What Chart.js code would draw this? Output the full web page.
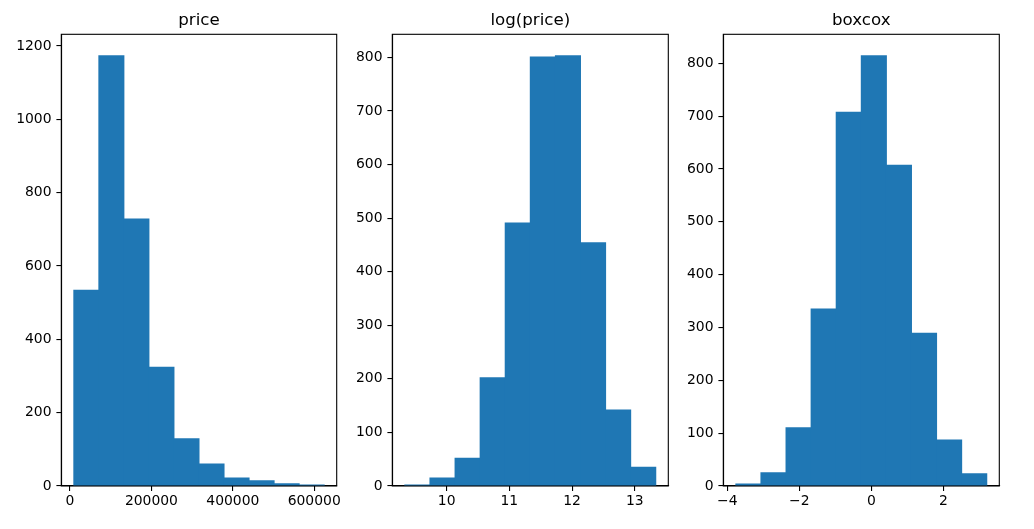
<!DOCTYPE html>
<html>
<head>
<meta charset="utf-8">
<title>price / log(price) / boxcox</title>
<script src="https://cdn.jsdelivr.net/npm/chart.js@4.4.0/dist/chart.umd.min.js"></script>
<style>
    body { margin: 0; background: #fff; }
    #wrap { position: relative; width: 1034px; height: 529px; overflow: hidden; }
    #wrap canvas { position: absolute; top: 0; }
</style>
</head>
<body>
<div id="wrap">
    <canvas id="c0" width="350" height="529" style="left:0px"></canvas>
    <canvas id="c1" width="350" height="529" style="left:337px"></canvas>
    <canvas id="c2" width="366" height="529" style="left:668px"></canvas>
</div>
<script>
// histogram bins (10 bins each)
const priceEdges = [9300, 70820, 132340, 193860, 255380, 316900, 378420, 439940, 501460, 562980, 624500];
const priceCounts = [534, 1173, 728, 324, 129, 60, 22, 14, 6, 3];
const priceXTicks = [0, 200000, 400000, 600000];
const priceYTicks = [0, 200, 400, 600, 800, 1000, 1200];

const logEdges = [9.333, 9.733, 10.134, 10.534, 10.934, 11.334, 11.734, 12.135, 12.535, 12.935, 13.335];
const logCounts = [2, 15, 52, 202, 491, 801, 803, 454, 142, 35];
const logXTicks = [10, 11, 12, 13];
const logYTicks = [0, 100, 200, 300, 400, 500, 600, 700, 800];

const boxEdges = [-3.763, -3.066, -2.369, -1.672, -0.975, -0.278, 0.419, 1.116, 1.813, 2.510, 3.207];
const boxCounts = [4, 25, 110, 335, 707, 814, 607, 289, 87, 23];
const boxXTicks = [-4, -2, 0, 2];
const boxYTicks = [0, 100, 200, 300, 400, 500, 600, 700, 800];

Chart.defaults.font.family = "'DejaVu Sans', sans-serif";
Chart.defaults.font.size = 13.9;
Chart.defaults.color = '#000';

const frame = {
    id: 'frame',
    afterDraw(chart) {
        const a = chart.chartArea, ctx = chart.ctx;
        ctx.save();
        ctx.strokeStyle = '#000';
        ctx.lineWidth = 1.1;
        ctx.strokeRect(a.left, a.top, a.right - a.left, a.bottom - a.top);
        ctx.restore();
    }
};

function fmt(v) { return String(v).replace('-', '\u2212'); }

// axLeft/axRight are the page x of the axes box, canvasLeft/canvasWidth the canvas placement
function makeHist(id, title, edges, counts, xTicks, yTicks, canvasLeft, canvasWidth, axLeft, axRight) {
    const pts = counts.map((c, i) => ({ x: (edges[i] + edges[i + 1]) / 2, y: c }));
    const range = edges[edges.length - 1] - edges[0];
    const ymax = Math.max(...counts) * 1.05;
    const tickGrid = { drawOnChartArea: false, drawTicks: true, tickLength: 4.9, color: '#000', lineWidth: 1.1, offset: false };
    return new Chart(document.getElementById(id).getContext('2d'), {
        type: 'bar',
        data: {
            datasets: [{
                data: pts,
                backgroundColor: '#1f77b4',
                borderWidth: 0,
                inflateAmount: 0.5,
                barPercentage: 1,
                categoryPercentage: 1
            }]
        },
        options: {
            responsive: false,
            animation: false,
            events: [],
            layout: { padding: { left: 0, right: canvasLeft + canvasWidth - axRight, top: 0, bottom: 0 } },
            plugins: {
                legend: { display: false },
                tooltip: { enabled: false },
                title: {
                    display: true,
                    text: title,
                    fullSize: false,
                    color: '#000',
                    font: { size: 16.67, weight: 'normal' },
                    padding: { top: 10.9, bottom: 3.4 }
                }
            },
            scales: {
                x: {
                    type: 'linear',
                    offset: false,
                    min: edges[0] - 0.05 * range,
                    max: edges[edges.length - 1] + 0.05 * range,
                    grid: tickGrid,
                    border: { display: true, color: '#000', width: 1.1 },
                    ticks: { autoSkip: false, maxRotation: 0, padding: 2, callback: fmt },
                    afterBuildTicks: s => { s.ticks = xTicks.map(v => ({ value: v })); },
                    afterFit: s => { s.height = 43; }
                },
                y: {
                    min: 0,
                    max: ymax,
                    grid: tickGrid,
                    border: { display: true, color: '#000', width: 1.1 },
                    ticks: { autoSkip: false, padding: 4.9, callback: fmt },
                    afterBuildTicks: s => { s.ticks = yTicks.map(v => ({ value: v })); },
                    afterFit: s => { s.width = axLeft - canvasLeft; }
                }
            }
        },
        plugins: [frame]
    });
}

makeHist('c0', 'price', priceEdges, priceCounts, priceXTicks, priceYTicks, 0, 350, 61.3, 336.7);
makeHist('c1', 'log(price)', logEdges, logCounts, logXTicks, logYTicks, 337, 350, 392.3, 668.3);
makeHist('c2', 'boxcox', boxEdges, boxCounts, boxXTicks, boxYTicks, 668, 366, 723.3, 999.3);
</script>
</body>
</html>
